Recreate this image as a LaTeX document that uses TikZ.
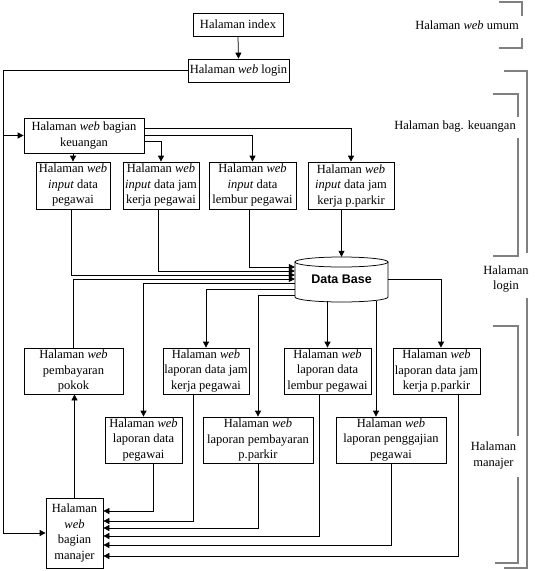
\documentclass[tikz,border=0pt]{standalone}
\usepackage{fontspec}
\setmainfont{Liberation Serif}
\setsansfont{Liberation Sans}
\usetikzlibrary{arrows.meta}
\newcommand\fs{\fontsize{12.5}{15.5}\selectfont}
\definecolor{brkgray}{RGB}{128,128,128}
\begin{document}
\begin{tikzpicture}[x=1pt,y=-1pt,
  box/.style={draw, line width=0.75pt, inner sep=0pt, align=center, font=\fs},
  lbl/.style={inner sep=0pt, align=center, font=\fs},
  arr/.style={draw, line width=0.75pt, -{Triangle[length=6pt,width=6pt]}},
  conn/.style={draw, line width=0.75pt},
  brk/.style={draw=brkgray, line width=1.8pt}]
\useasboundingbox (0,0) rectangle (535,571);
% nodes
\node[box, minimum width=90pt, minimum height=23pt] (index) at (238,24.5) {Halaman index};
\node[box, minimum width=101pt, minimum height=23pt] (login) at (238.5,70.5) {Halaman \textit{web} login};
\node[box, minimum width=120pt, minimum height=35pt] (keu) at (84,135.5) {Halaman \textit{web} bagian\\keuangan};
\node[box, minimum width=74pt, minimum height=47pt] (in1) at (73,185.5) {Halaman \textit{web}\\\textit{input} data\\pegawai};
\node[box, minimum width=76pt, minimum height=47pt] (in2) at (161,185.5) {Halaman \textit{web}\\\textit{input} data jam\\kerja pegawai};
\node[box, minimum width=87pt, minimum height=47pt] (in3) at (252.5,185.5) {Halaman \textit{web}\\\textit{input} data\\lembur pegawai};
\node[box, minimum width=86pt, minimum height=47pt] (in4) at (351,185.5) {Halaman \textit{web}\\\textit{input} data jam\\kerja p.parkir};
% database cylinder
\draw[line width=0.75pt] (341.5,262) ellipse [x radius=46.5pt, y radius=5pt];
\draw[line width=0.75pt] (295,262) -- (295,297) .. controls (295,299.76) and (315.82,302) .. (341.5,302) .. controls (367.18,302) and (388,299.76) .. (388,297) -- (388,262);
\node[inner sep=0pt, minimum width=93pt, minimum height=45pt, font=\sffamily\bfseries\fontsize{12.5}{14}\selectfont] (db) at (341.5,279.5) {Data Base};
% second row
\node[box, minimum width=99pt, minimum height=46pt] (pp) at (73.5,371) {Halaman \textit{web}\\pembayaran\\pokok};
\node[box, minimum width=86pt, minimum height=46pt] (ljp) at (206,371) {Halaman \textit{web}\\laporan data jam\\kerja pegawai};
\node[box, minimum width=87pt, minimum height=46pt] (llp) at (327.5,371) {Halaman \textit{web}\\laporan data\\lembur pegawai};
\node[box, minimum width=87pt, minimum height=46pt] (ljpp) at (436.5,371) {Halaman \textit{web}\\laporan data jam\\kerja p.parkir};
% third row
\node[box, minimum width=77pt, minimum height=46pt] (ldp) at (143.5,440) {Halaman \textit{web}\\laporan data\\pegawai};
\node[box, minimum width=110pt, minimum height=46pt] (lpp) at (258,440) {Halaman \textit{web}\\laporan pembayaran\\p.parkir};
\node[box, minimum width=110pt, minimum height=46pt] (lgp) at (391,440) {Halaman \textit{web}\\laporan penggajian\\pegawai};
% manager
\node[box, minimum width=57pt, minimum height=70pt] (mgr) at (74.5,533) {Halaman\\\textit{web}\\bagian\\manajer};
% connectors
\coordinate (rail) at (3,70.5);
\draw[arr] (index.south) -- (login.north);
\draw[arr] (login.west) -- (rail) |- (mgr.west);
\draw[arr] (rail |- keu.west) -- (keu.west);
\draw[arr] (keu.south -| in1.north) -- (in1.north);
\draw[arr] ([yshift=7.5pt]keu.east) -| (in4.north);
\draw[arr] (keu.east) -| (in3.north);
\draw[arr] ([yshift=-5.5pt]keu.east) -| (in2.north);
\draw[arr] (in4.south -| db.north) -- (db.north);
\draw[arr] ([xshift=-3.5pt]in3.south) |- ([yshift=12.5pt]db.west);
\draw[arr] ([xshift=-3pt]in2.south) |- ([yshift=8.5pt]db.west);
\draw[arr] ([xshift=-2pt]in1.south) |- ([yshift=4.5pt]db.west);
\draw[arr] (pp.north) |- ([yshift=0.5pt]db.west);
\draw[arr] ([yshift=-3.5pt]db.west) -| (ldp.north);
\draw[arr] ([yshift=-9.5pt]db.west) -| (ljp.north);
\draw[arr] ([yshift=-15.5pt]db.west) -| (lpp.north);
\draw[arr] ([yshift=1pt]db.south -| llp.north) -- (llp.north);
\draw[arr] ([xshift=34.5pt,yshift=1pt]db.south) -- ([xshift=34.5pt]db.south |- lgp.north);
\draw[arr] (db.east) -| ([xshift=4.5pt]ljpp.north);
\draw[arr] (mgr.north) -- (mgr.north |- pp.south);
\draw[arr] ([xshift=9.5pt]ldp.south) |- ([yshift=22pt]mgr.east);
\draw[arr] ([xshift=-13pt]ljp.south) |- ([yshift=12pt]mgr.east);
\draw[arr] (lpp.south) |- ([yshift=5pt]mgr.east);
\draw[arr] ([xshift=-8.5pt]llp.south) |- ([yshift=-3pt]mgr.east);
\draw[arr] (lgp.south) |- ([yshift=-12pt]mgr.east);
\draw[arr] ([xshift=21.5pt]ljpp.south) |- ([yshift=-23pt]mgr.east);
% brackets
\draw[brk] (499,2) -- (522,2) -- (522,16);
\draw[brk] (522,38) -- (522,48) -- (499,48);
\node[lbl] (lumum) at (467,25) {Halaman \textit{web} umum};
\draw[brk] (504,71) -- (527,71) -- (527,253);
\draw[brk] (527,298) -- (527,568) -- (504,568);
\node[lbl] (llogin) at (506,279) {Halaman\\login};
\draw[brk] (493,94) -- (518,94) -- (518,117);
\draw[brk] (518,138) -- (518,256) -- (493,256);
\node[lbl] (lkeu) at (455,127) {Halaman bag. keuangan};
\draw[brk] (493,326) -- (518,326) -- (518,436);
\draw[brk] (518,477) -- (518,563) -- (495,563);
\node[lbl] (lmgr) at (493.5,455.5) {Halaman\\manajer};
\end{tikzpicture}
\end{document}
